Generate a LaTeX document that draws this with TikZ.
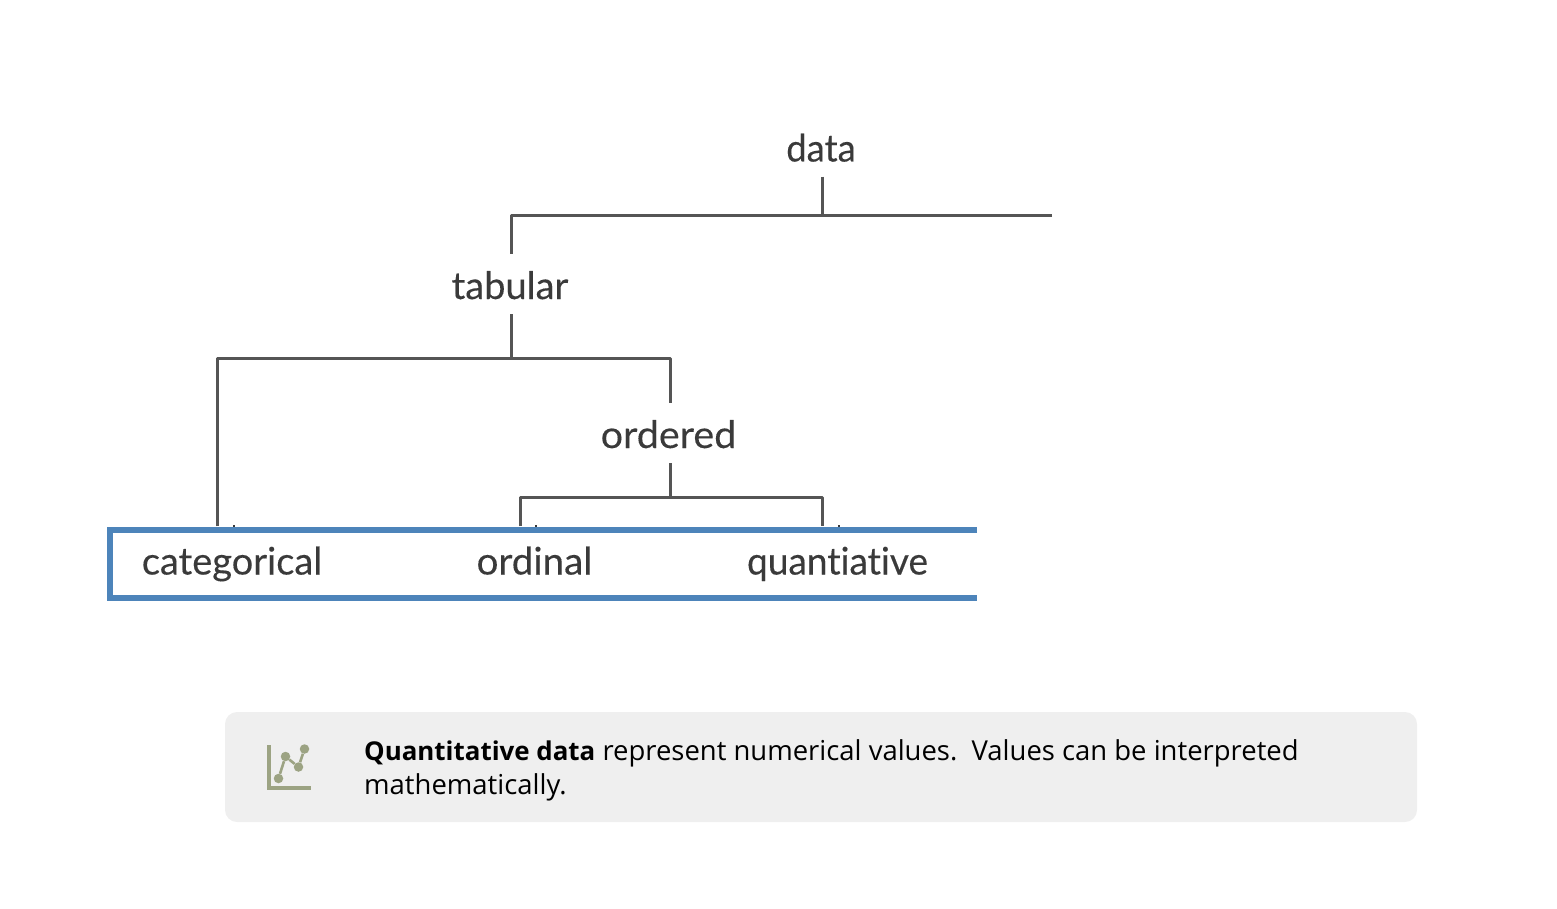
\documentclass[tikz,border=0pt]{standalone}
\usepackage{fontspec}
\setmainfont[RawFeature={-liga},FakeBold=0.25]{Lato}
\newfontfamily\capfont{Open Sans}
\definecolor{ink}{HTML}{3A3A3A}
\definecolor{linec}{HTML}{555555}
\definecolor{bluec}{HTML}{4D84BA}
\definecolor{panel}{HTML}{EFEFEF}
\definecolor{olive}{HTML}{9CA383}
\tikzset{
 lab/.style={anchor=base,inner sep=0pt,text=ink,font=\fontsize{38}{38}\selectfont,text height=45pt,text depth=15pt},
 leaf/.style={lab,text height=48pt},
 tree/.style={draw=linec,line width=2.9pt,line join=round},
 tick/.style={draw=ink,line width=1.2pt},
 band/.style={draw=bluec,line width=6pt,line join=miter},
 dot/.style={circle,fill=olive,draw=none,minimum size=9.5pt,inner sep=0pt},
}
\begin{document}
\begin{tikzpicture}[x=1pt,y=-1pt]
\useasboundingbox (0,0) rectangle (1557,909);
\draw[band] (977,530) -- (110,530) -- (110,598) -- (977,598);
\node[lab,xscale=.96,transform shape] (data) at (821,161.5) {data};
\node[lab] (tabular) at (510,299) {tabular};
\node[lab,xscale=1.04,transform shape] (ordered) at (668.5,448) {ordered};
\node[leaf] (categorical) at (232,574.5) {categorical};
\node[leaf,xscale=1.015,transform shape] (ordinal) at (534.5,574.5) {ordinal};
\node[leaf,xscale=.975,transform shape] (quant) at (837.5,574.5) {quantiative};
\coordinate (jd) at (822.7,215.5);
\coordinate (jt) at (511.5,358.5);
\coordinate (jo) at (670.2,497.5);
\coordinate (rightend) at (1052,215.5);
\draw[tree] (jd |- data.south) -- (jd);
\draw[tree] (rightend) -- (jd) -- (jt |- jd) -- (jt |- tabular.north);
\draw[tree] (jt |- tabular.south) -- (jt);
\draw[tree] (217.2,0 |- categorical.north) -- (217.2,0 |- jt) -- (jo |- jt) -- (jo |- ordered.north);
\draw[tree] (jo |- ordered.south) -- (jo);
\draw[tree] (520.2,0 |- ordinal.north) -- (520.2,0 |- jo) -- (822.8,0 |- jo) -- (822.8,0 |- quant.north);
\draw[tick] (234,525) -- (234,527);
\draw[tick] (536,525) -- (536,527);
\draw[tick] (839,525) -- (839,527);
\node[fill=panel,draw=none,rounded corners=12pt,minimum width=1192pt,minimum height=110pt,inner sep=0pt] (note) at (821,767) {};
\node[anchor=base west,inner sep=0pt,align=left,font=\capfont\fontsize{27.45}{34}\selectfont,text=black] (notetext) at (364,794) {{\fontsize{25.9}{34}\selectfont\bfseries Quantitative data} represent numerical values.\ \ Values can be interpreted\\mathematically.};
% chart icon
\draw[olive,line width=3.6pt] (268.7,745) -- (268.7,787.7) -- (311,787.7);
\node[dot] (p1) at (278.5,778.5) {};
\node[dot] (p2) at (285.5,756.5) {};
\node[dot] (p3) at (298.5,767) {};
\node[dot] (p4) at (304.5,749) {};
\draw[olive,line width=2.6pt] (p1) -- (p2) -- (p3) -- (p4);
\end{tikzpicture}
\end{document}
